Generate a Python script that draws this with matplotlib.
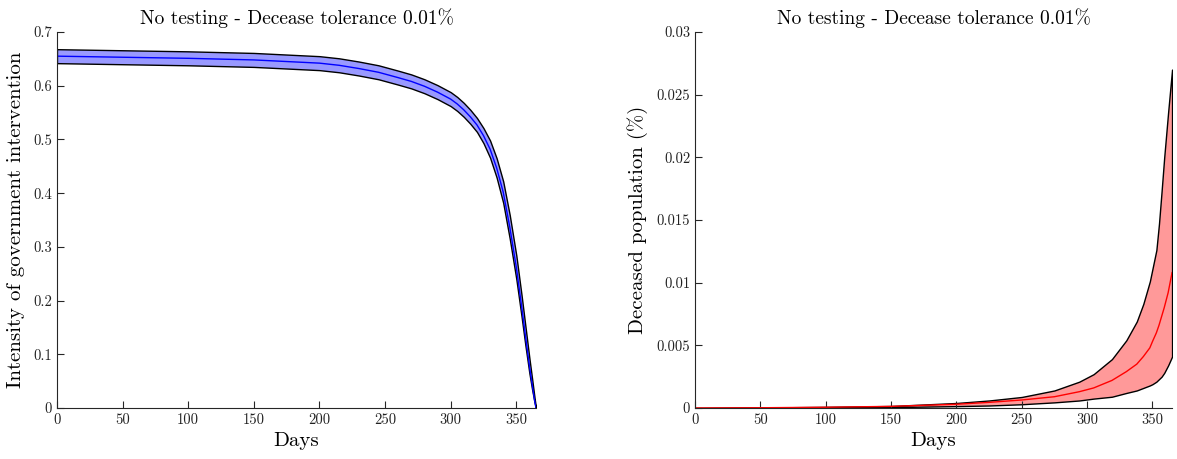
import matplotlib
matplotlib.use('Agg')
import matplotlib.pyplot as plt
import matplotlib as mpl

mpl.rcParams['font.family'] = 'serif'
mpl.rcParams['font.serif'] = ['cmr10', 'DejaVu Serif']
mpl.rcParams['mathtext.fontset'] = 'cm'
mpl.rcParams['axes.formatter.use_mathtext'] = True

## Left panel: intensity of government intervention (mean and band)
days_u = [0, 50, 100, 150, 175, 200, 215, 230, 245, 260, 270, 280, 290, 300,
          305, 310, 315, 320, 325, 330, 335, 340, 345, 350, 354, 357, 360,
          362, 364, 365]
u_mean = [0.655, 0.653, 0.651, 0.648, 0.645, 0.642, 0.638, 0.632, 0.625,
          0.615, 0.608, 0.599, 0.588, 0.575, 0.566, 0.555, 0.542, 0.527,
          0.507, 0.482, 0.447, 0.402, 0.337, 0.262, 0.190, 0.133, 0.078,
          0.045, 0.013, 0.0]
u_upper = [0.668, 0.666, 0.664, 0.661, 0.658, 0.655, 0.651, 0.645, 0.638,
           0.628, 0.621, 0.612, 0.601, 0.588, 0.579, 0.568, 0.555, 0.540,
           0.521, 0.498, 0.465, 0.422, 0.359, 0.284, 0.210, 0.151, 0.092,
           0.055, 0.017, 0.0]
u_lower = [0.642, 0.640, 0.638, 0.635, 0.632, 0.629, 0.625, 0.619, 0.612,
           0.602, 0.595, 0.586, 0.575, 0.562, 0.553, 0.542, 0.529, 0.514,
           0.493, 0.466, 0.429, 0.382, 0.315, 0.240, 0.170, 0.115, 0.064,
           0.035, 0.009, 0.0]

## Right panel: deceased population in percent (mean and band)
days_d = [0, 50, 100, 150, 200, 225, 250, 275, 294, 305, 319, 330, 338, 343,
          348, 350, 353, 355, 357, 359, 362, 365]
d_mean = [0.0, 0.00002, 0.00006, 0.00013, 0.0003, 0.00045, 0.00064, 0.0009,
          0.0013, 0.0016, 0.0022, 0.0029, 0.0035, 0.0041, 0.0048, 0.0053,
          0.0060, 0.0066, 0.0073, 0.0080, 0.0092, 0.0108]
d_upper = [0.0, 0.00004, 0.00009, 0.00016, 0.0004, 0.0006, 0.00088, 0.0014,
           0.0021, 0.0027, 0.0039, 0.0054, 0.0069, 0.0083, 0.0101, 0.0111,
           0.0126, 0.0147, 0.0173, 0.0200, 0.0236, 0.0270]
d_lower = [0.0, 0.00001, 0.00003, 0.00007, 0.00015, 0.0002, 0.0003, 0.00045,
           0.0006, 0.00075, 0.0009, 0.0012, 0.0014, 0.0016, 0.0018, 0.0019,
           0.0021, 0.0023, 0.0025, 0.0028, 0.0034, 0.0041]

u_ticks = [0, 0.1, 0.2, 0.3, 0.4, 0.5, 0.6, 0.7]
d_ticks = [0, 0.005, 0.01, 0.015, 0.02, 0.025, 0.03]
day_ticks = [0, 50, 100, 150, 200, 250, 300, 350]

title = "No testing - Decease tolerance 0.01%"
axis_col = '#262626'


def style_axes(ax, yticks):
    # MATLAB-like look: box off, ticks pointing inward
    ax.spines['top'].set_visible(False)
    ax.spines['right'].set_visible(False)
    for s in ('left', 'bottom'):
        ax.spines[s].set_color(axis_col)
        ax.spines[s].set_linewidth(0.8)
    ax.tick_params(direction='in', length=5, width=0.8, colors=axis_col,
                   labelsize=10.5, labelcolor='#222222')
    ax.set_xlim(0, 365)
    ax.set_xticks(day_ticks)
    ax.set_xticklabels([str(t) for t in day_ticks])
    ax.set_yticks(yticks)
    ax.set_yticklabels(['%g' % t for t in yticks])
    ax.set_xlabel("Days", fontsize=15, labelpad=4)


def main():
    fig = plt.figure(figsize=(11.77, 4.59), dpi=100)

    ax1 = fig.add_axes([0.0484, 0.1111, 0.407, 0.8192])
    ax1.fill_between(days_u, u_lower, u_upper, facecolor='#9999ff',
                     edgecolor='k', linewidth=1.0)
    ax1.plot(days_u, u_mean, color='#0000ff', linewidth=1.0)
    ax1.set_ylim(0, 0.7)
    style_axes(ax1, u_ticks)
    ax1.set_ylabel("Intensity of government intervention", fontsize=15, labelpad=6)
    ax1.set_title(title, fontsize=14, pad=6)

    ax2 = fig.add_axes([0.5905, 0.1111, 0.4053, 0.8192])
    ax2.fill_between(days_d, d_lower, d_upper, facecolor='#ff9999',
                     edgecolor='k', linewidth=1.0)
    ax2.plot(days_d, d_mean, color='#ff0000', linewidth=1.0)
    ax2.set_ylim(0, 0.03)
    style_axes(ax2, d_ticks)
    ax2.set_ylabel("Deceased population (%)", fontsize=15, labelpad=6)
    ax2.set_title(title, fontsize=14, pad=6)

    fig.savefig('out.png', dpi=100)


if __name__ == "__main__":
    main()
